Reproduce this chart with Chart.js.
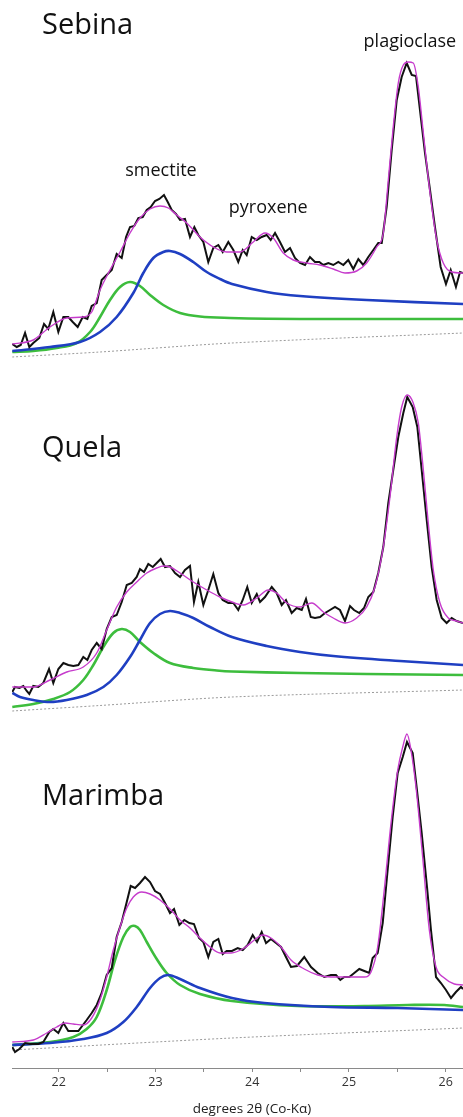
<!DOCTYPE html>
<html>
<head>
<meta charset="utf-8">
<title>XRD profiles: Sebina, Quela, Marimba</title>
<script src="https://cdn.jsdelivr.net/npm/chart.js@4.4.1/dist/chart.umd.min.js"></script>
<style>
  html, body { margin: 0; padding: 0; background: #ffffff; }
  #wrap { position: relative; width: 463px; height: 1117px; overflow: hidden; }
  #wrap canvas { position: absolute; left: 0; }
</style>
</head>
<body>
<div id="wrap">
  <canvas id="sebina" width="463" height="365" style="top:0px"></canvas>
  <canvas id="quela" width="463" height="360" style="top:365px"></canvas>
  <canvas id="marimba" width="463" height="392" style="top:725px"></canvas>
</div>
<script>
// ---- 2θ range shared by all three panels (degrees, Co-Kα) ----
const thetaMin = 21.517;
const thetaMax = 26.179;
const axisTicks = [22, 23, 24, 25, 26];

// ---- Sebina ----
const sebinaObsX = [21.520,21.566,21.607,21.652,21.696,21.737,21.799,21.848,21.892,21.944,21.996,22.048,22.099,22.145,22.196,22.248,22.296,22.341,22.393,22.444,22.496,22.548,22.599,22.651,22.696,22.737,22.781,22.823,22.868,22.910,22.951,22.995,23.040,23.088,23.127,23.168,23.212,23.254,23.305,23.357,23.402,23.443,23.495,23.546,23.598,23.650,23.695,23.753,23.805,23.856,23.902,23.943,23.995,24.047,24.098,24.150,24.191,24.236,24.287,24.339,24.391,24.442,24.494,24.546,24.597,24.649,24.694,24.735,24.787,24.838,24.890,24.942,24.993,25.045,25.097,25.148,25.200,25.252,25.303,25.339,25.390,25.442,25.494,25.545,25.597,25.649,25.693,25.734,25.786,25.838,25.889,25.948,26.003,26.052,26.106,26.148,26.179];
const sebinaObsY = [21,18,20,32,18,22,27,41,36,53,33,48,48,43,38,48,46,59,62,85,90,95,111,107,128,138,139,147,148,155,158,164,166,170,163,155,151,145,146,128,138,130,123,103,117,120,113,123,115,103,115,110,128,125,128,130,125,132,123,113,117,107,102,100,108,103,103,100,102,100,103,100,105,96,106,100,108,115,122,122,158,215,265,288,302,290,289,255,212,175,138,98,81,95,78,93,92];
const sebinaFitX = [21.520,21.737,21.910,22.083,22.254,22.341,22.427,22.530,22.634,22.737,22.840,22.944,23.047,23.133,23.220,23.323,23.460,23.598,23.736,23.874,24.011,24.132,24.218,24.321,24.425,24.563,24.701,24.838,24.959,25.080,25.183,25.287,25.355,25.407,25.458,25.510,25.562,25.613,25.665,25.717,25.769,25.838,25.907,25.975,26.062,26.179];
const sebinaFitY = [21,25,38,47,48,53,75,95,113,132,147,156,159,157,150,142,128,118,113,113,123,132,127,112,105,102,100,96,92,94,102,118,132,185,238,282,300,303,302,278,232,172,125,102,93,92];
const sebinaGreenX = [21.520,21.737,21.979,22.186,22.324,22.427,22.530,22.634,22.737,22.840,22.944,23.081,23.254,23.460,23.771,24.150,24.838,26.179];
const sebinaGreenY = [13,14,17,22,33,48,65,78,83,79,70,60,52,48.5,47,46.2,46,46];
const sebinaBlueX = [21.520,21.910,22.220,22.427,22.599,22.771,22.874,22.978,23.081,23.150,23.254,23.391,23.530,23.667,23.791,24.150,24.494,25.183,26.179];
const sebinaBlueY = [14,18,23,33,48,72,92,107,113,114,111,103,93,86,81,73,69,65,61];
const sebinaBgX = [21.520,22.427,23.791,26.179];
const sebinaBgY = [8,13,22,32];

// ---- Quela ----
const quelaObsX = [21.520,21.548,21.593,21.634,21.669,21.696,21.737,21.789,21.841,21.900,21.944,21.996,22.048,22.099,22.151,22.203,22.254,22.296,22.341,22.393,22.444,22.496,22.548,22.599,22.651,22.703,22.755,22.806,22.840,22.882,22.926,22.972,23.013,23.054,23.099,23.150,23.202,23.254,23.305,23.357,23.398,23.443,23.495,23.546,23.598,23.650,23.695,23.753,23.805,23.856,23.902,23.949,23.995,24.047,24.081,24.132,24.202,24.253,24.305,24.349,24.408,24.460,24.512,24.556,24.605,24.649,24.701,24.753,24.804,24.856,24.907,24.959,25.011,25.052,25.107,25.156,25.200,25.252,25.303,25.355,25.407,25.458,25.510,25.562,25.603,25.659,25.707,25.752,25.804,25.855,25.907,25.959,26.010,26.062,26.114,26.179];
const quelaObsY = [33,38,37,39,34,31,39,38,42,56,42,56,62,60,59,60,68,65,75,82,76,96,108,110,123,140,142,148,156,153,161,158,162,166,158,159,152,148,155,159,123,143,120,135,151,132,125,122,122,115,125,138,122,131,123,128,138,132,120,125,112,117,115,126,108,107,108,112,115,118,115,104,119,115,112,117,128,133,152,178,222,255,288,312,328,318,298,255,205,158,125,107,102,107,104,102];
const quelaFitX = [21.520,21.737,21.910,22.083,22.254,22.393,22.496,22.599,22.703,22.806,22.910,23.013,23.081,23.150,23.254,23.391,23.530,23.667,23.791,23.908,24.047,24.166,24.253,24.357,24.494,24.615,24.735,24.838,24.959,25.080,25.183,25.269,25.355,25.424,25.494,25.545,25.603,25.665,25.717,25.769,25.820,25.872,25.941,26.027,26.114,26.179];
const quelaFitY = [38,38,45,53,58,72,95,118,133,143,152,157,159,158,152,143,135,128,123,120,127,135,132,122,118,122,113,107,102,107,118,138,178,228,288,318,330,322,302,255,202,155,122,107,104,102];
const quelaGreenX = [21.520,21.737,21.944,22.117,22.254,22.358,22.461,22.564,22.651,22.737,22.840,22.978,23.150,23.391,23.633,23.791,24.494,25.183,26.179];
const quelaGreenY = [18,21,26,33,45,60,78,92,96,93,83,72,62,57,54.5,53.5,52,51,50];
const quelaBlueX = [21.520,21.600,21.737,21.910,22.083,22.289,22.461,22.599,22.737,22.840,22.944,23.047,23.150,23.254,23.391,23.564,23.791,24.150,24.494,24.838,25.528,26.179];
const quelaBlueY = [32,28,25,23,25,30,38,50,68,85,102,111,114,112,107,98,88,79,73,69,64,60];
const quelaBgX = [21.520,22.427,23.791,26.179];
const quelaBgY = [14,19.5,28,35];

// ---- Marimba ----
const marimbaObsX = [21.520,21.548,21.593,21.652,21.703,21.789,21.841,21.903,21.944,21.996,22.048,22.099,22.203,22.289,22.341,22.393,22.444,22.496,22.548,22.599,22.651,22.703,22.744,22.789,22.840,22.892,22.944,22.995,23.047,23.099,23.150,23.192,23.247,23.298,23.350,23.398,23.450,23.495,23.546,23.598,23.650,23.695,23.736,23.791,23.850,23.902,23.953,24.005,24.050,24.098,24.143,24.194,24.246,24.298,24.349,24.401,24.463,24.538,24.608,24.677,24.745,24.814,24.866,24.911,24.952,25.004,25.055,25.107,25.159,25.210,25.245,25.297,25.349,25.400,25.452,25.504,25.556,25.600,25.659,25.703,25.752,25.807,25.848,25.900,25.951,26.003,26.055,26.106,26.158,26.179];
const marimbaObsY = [21,16,19,25,24,24,26,36,39,35,45,37,37,48,55,63,75,93,100,131,146,166,182,180,185,191,186,177,174,165,155,159,143,148,145,144,130,126,111,126,129,114,117,117,120,118,123,133,126,136,125,129,125,121,111,101,102,111,101,95,91,93,93,88,91,91,95,99,97,95,110,115,145,198,251,295,311,326,315,278,235,181,138,91,85,78,70,76,81,79];
const marimbaFitX = [21.520,21.737,21.876,21.979,22.065,22.151,22.254,22.341,22.427,22.496,22.564,22.634,22.703,22.771,22.858,22.944,23.047,23.150,23.254,23.357,23.460,23.564,23.667,23.781,23.918,24.022,24.109,24.194,24.298,24.401,24.538,24.677,24.814,24.987,25.159,25.228,25.297,25.365,25.435,25.504,25.556,25.600,25.641,25.693,25.762,25.831,25.900,25.986,26.089,26.179];
const marimbaFitY = [26,28,35,41,45,44,43,50,68,91,118,141,160,171,176,174,168,159,148,140,130,121,115,115,120,128,133,130,121,108,99,93,91,91,91,96,121,178,245,298,321,334,318,281,211,138,101,90,84,83];
const marimbaGreenX = [21.520,21.910,22.151,22.289,22.393,22.496,22.582,22.668,22.737,22.789,22.840,22.910,23.013,23.116,23.254,23.460,23.791,24.470,25.159,25.607,25.986,26.179];
const marimbaGreenY = [23,26,31,39,51,78,108,131,141,142,138,126,109,95,83,74,67,62,62,63,63,61];
const marimbaBlueX = [21.520,21.910,22.254,22.496,22.668,22.806,22.944,23.047,23.133,23.254,23.460,23.791,24.125,24.814,25.504,26.179];
const marimbaBlueY = [23,25,29,35,46,61,80,90,93,89,80,70,65,61,60,58];
const marimbaBgX = [21.520,23.791,26.179];
const marimbaBgY = [18,30,40];

// ---- styling ----
const FONT = '"Open Sans", "Noto Sans", "DejaVu Sans", sans-serif';
const COLORS = {
  observed: '#111111',
  fit: '#c63ccc',
  smectiteA: '#3dbd3d',
  smectiteB: '#1f3fc2',
  background: '#9a9a9a'
};

function points(xs, ys) {
  const n = Math.min(xs.length, ys.length);
  const out = [];
  for (let i = 0; i < n; i++) out.push({ x: xs[i], y: ys[i] });
  return out;
}

function panelDatasets(p) {
  // first dataset is drawn on top
  return [
    { label: 'fit', data: points(p.fitX, p.fitY), borderColor: COLORS.fit, borderWidth: 1.4,
      cubicInterpolationMode: 'monotone', pointRadius: 0, fill: false },
    { label: 'observed', data: points(p.obsX, p.obsY), borderColor: COLORS.observed, borderWidth: 2,
      tension: 0, pointRadius: 0, fill: false, borderJoinStyle: 'miter' },
    { label: 'component 2', data: points(p.blueX, p.blueY), borderColor: COLORS.smectiteB, borderWidth: 2.6,
      tension: 0.35, pointRadius: 0, fill: false },
    { label: 'component 1', data: points(p.greenX, p.greenY), borderColor: COLORS.smectiteA, borderWidth: 2.6,
      tension: 0.35, pointRadius: 0, fill: false },
    { label: 'background', data: points(p.bgX, p.bgY), borderColor: COLORS.background, borderWidth: 1,
      borderDash: [2, 2], tension: 0.3, pointRadius: 0, fill: false }
  ];
}

// draws panel names, peak names and the axis caption
function textPlugin(items) {
  return {
    id: 'panelText',
    afterDraw(chart) {
      const ctx = chart.ctx;
      ctx.save();
      ctx.textBaseline = 'alphabetic';
      for (const it of items) {
        ctx.font = it.font;
        ctx.fillStyle = it.color || '#111111';
        ctx.textAlign = it.align || 'left';
        let px = it.px, py = it.py;
        if (it.at) {
          px = chart.scales.x.getPixelForValue(it.at[0]);
          py = chart.scales.y.getPixelForValue(it.at[1]);
        }
        ctx.fillText(it.text, px, py);
      }
      ctx.restore();
    }
  };
}

function makePanel(canvasId, p, yMax, texts, withAxis) {
  const xScale = withAxis ? {
    type: 'linear', min: thetaMin, max: thetaMax, position: 'bottom',
    afterFit(scale) { scale.height = 49; },
    ticks: {
      stepSize: 0.5, includeBounds: false, autoSkip: false, maxRotation: 0, minRotation: 0,
      padding: 3, color: '#333333', font: { family: FONT, size: 12.5 },
      callback: (v) => axisTicks.includes(v) ? String(v) : ''
    },
    grid: { drawOnChartArea: false, drawTicks: true, tickLength: 4, color: '#8a8a8a', lineWidth: 1 },
    border: { display: true, color: '#8a8a8a', width: 1 }
  } : { type: 'linear', min: thetaMin, max: thetaMax, display: false };

  return new Chart(document.getElementById(canvasId), {
    type: 'line',
    data: { datasets: panelDatasets(p) },
    options: {
      responsive: false,
      animation: false,
      events: [],
      layout: { padding: { left: 12, right: 0, top: 0, bottom: 0 } },
      plugins: { legend: { display: false }, tooltip: { enabled: false } },
      scales: {
        x: xScale,
        y: { type: 'linear', min: 0, max: yMax, display: false }
      }
    },
    plugins: [textPlugin(texts)]
  });
}

const titleFont = '29px ' + FONT;
const peakFont = '18px ' + FONT;

makePanel('sebina', {
  obsX: sebinaObsX, obsY: sebinaObsY, fitX: sebinaFitX, fitY: sebinaFitY,
  greenX: sebinaGreenX, greenY: sebinaGreenY, blueX: sebinaBlueX, blueY: sebinaBlueY,
  bgX: sebinaBgX, bgY: sebinaBgY
}, 365, [
  { text: 'Sebina', px: 42, py: 34, font: titleFont },
  { text: 'smectite', at: [23.057, 189], align: 'center', font: peakFont },
  { text: 'pyroxene', at: [24.166, 152], align: 'center', font: peakFont },
  { text: 'plagioclase', at: [25.630, 318], align: 'center', font: peakFont }
], false);

makePanel('quela', {
  obsX: quelaObsX, obsY: quelaObsY, fitX: quelaFitX, fitY: quelaFitY,
  greenX: quelaGreenX, greenY: quelaGreenY, blueX: quelaBlueX, blueY: quelaBlueY,
  bgX: quelaBgX, bgY: quelaBgY
}, 360, [
  { text: 'Quela', px: 42, py: 91.7, font: titleFont }
], false);

makePanel('marimba', {
  obsX: marimbaObsX, obsY: marimbaObsY, fitX: marimbaFitX, fitY: marimbaFitY,
  greenX: marimbaGreenX, greenY: marimbaGreenY, blueX: marimbaBlueX, blueY: marimbaBlueY,
  bgX: marimbaBgX, bgY: marimbaBgY
}, 343, [
  { text: 'Marimba', px: 42, py: 80.3, font: titleFont },
  { text: 'degrees 2θ (Co-Kα)', px: 252, py: 388, align: 'center', font: '13.5px ' + FONT, color: '#222222' }
], true);
</script>
</body>
</html>
